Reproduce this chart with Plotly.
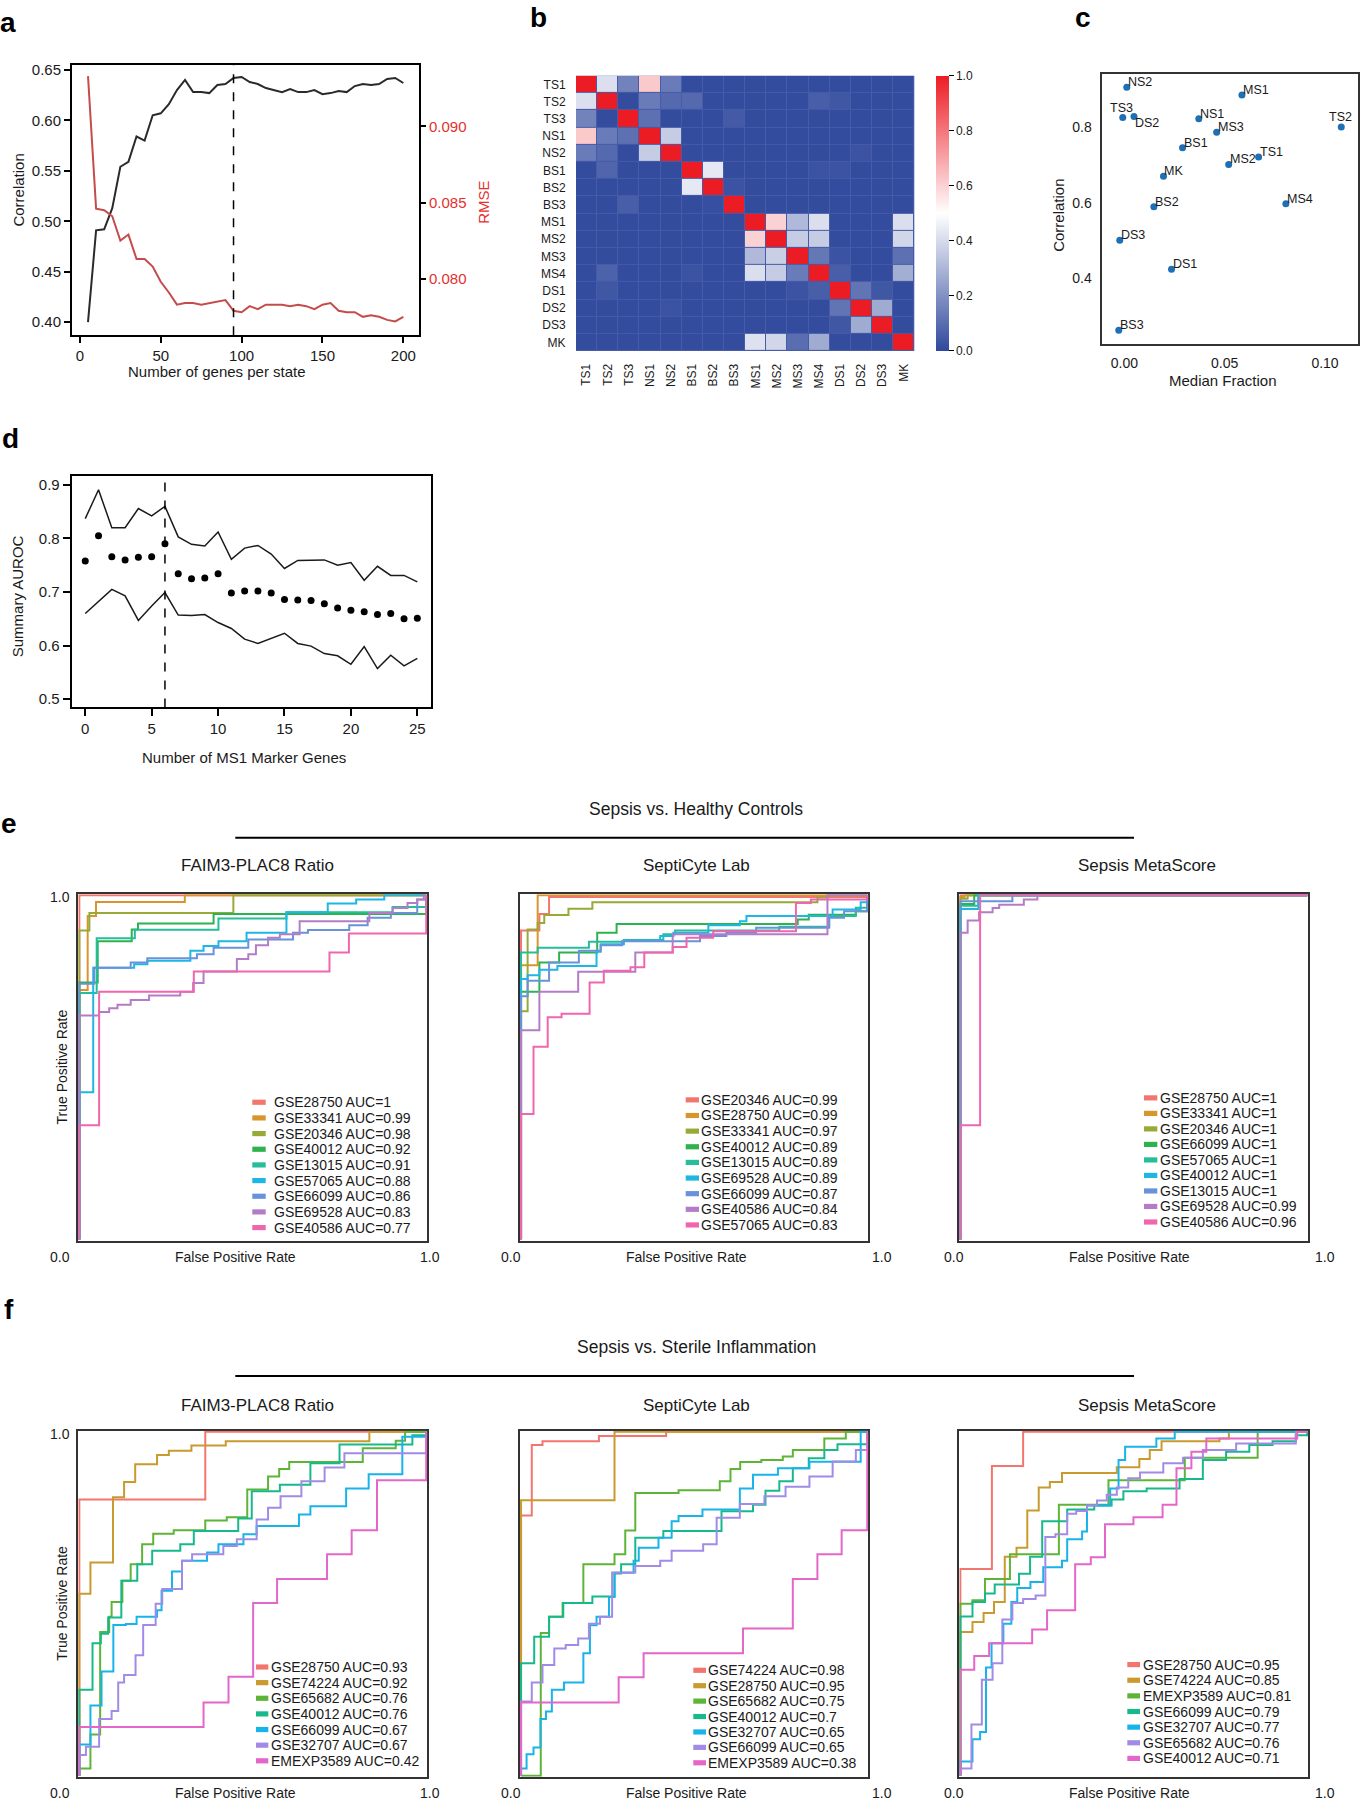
import plotly.graph_objects as go

W, H = 1360, 1800
FONT = "Liberation Sans, Arial, Helvetica, sans-serif"
TXT = "#1a1a1a"

# ---------------- Panel a data ----------------
genes_per_state = list(range(5, 201, 5))
correlation_a = [0.400, 0.491, 0.492, 0.513, 0.554, 0.559, 0.584, 0.580, 0.605, 0.607,
                 0.616, 0.630, 0.640, 0.628, 0.628, 0.627, 0.635, 0.636, 0.642, 0.643,
                 0.638, 0.636, 0.632, 0.630, 0.628, 0.631, 0.628, 0.628, 0.630, 0.626,
                 0.627, 0.629, 0.628, 0.634, 0.636, 0.635, 0.636, 0.641, 0.642, 0.637]
rmse_a = [0.0933, 0.0846, 0.0845, 0.0841, 0.0825, 0.0829, 0.0813, 0.0813, 0.0808, 0.0798,
          0.0791, 0.0783, 0.0784, 0.0784, 0.0783, 0.0784, 0.0785, 0.0786, 0.0779, 0.0778,
          0.0782, 0.0780, 0.0783, 0.0783, 0.0783, 0.0782, 0.0783, 0.0782, 0.0780, 0.0783,
          0.0784, 0.0779, 0.0778, 0.0778, 0.0775, 0.0776, 0.0775, 0.0773, 0.0772, 0.0775]
optimal_genes = 95

# ---------------- Panel b data ----------------
states = ["TS1", "TS2", "TS3", "NS1", "NS2", "BS1", "BS2", "BS3",
          "MS1", "MS2", "MS3", "MS4", "DS1", "DS2", "DS3", "MK"]
similarity = [
    [1.00, 0.415, 0.16, 0.62, 0.14, 0.01, 0.01, 0.01, 0.01, 0.01, 0.01, 0.01, 0.01, 0.01, 0.01, 0.01],
    [0.415, 1.00, 0.01, 0.14, 0.09, 0.09, 0.01, 0.01, 0.01, 0.01, 0.01, 0.06, 0.04, 0.01, 0.01, 0.01],
    [0.16, 0.01, 1.00, 0.11, 0.01, 0.01, 0.01, 0.05, 0.01, 0.01, 0.01, 0.01, 0.01, 0.01, 0.01, 0.01],
    [0.62, 0.14, 0.11, 1.00, 0.36, 0.01, 0.01, 0.01, 0.01, 0.01, 0.01, 0.01, 0.01, 0.01, 0.01, 0.01],
    [0.14, 0.09, 0.01, 0.36, 1.00, 0.01, 0.01, 0.01, 0.01, 0.01, 0.01, 0.01, 0.01, 0.03, 0.01, 0.01],
    [0.01, 0.08, 0.01, 0.01, 0.01, 1.00, 0.44, 0.01, 0.01, 0.01, 0.01, 0.03, 0.03, 0.01, 0.01, 0.01],
    [0.01, 0.01, 0.01, 0.01, 0.01, 0.44, 1.00, 0.03, 0.01, 0.01, 0.01, 0.01, 0.01, 0.01, 0.01, 0.01],
    [0.01, 0.01, 0.06, 0.01, 0.01, 0.01, 0.02, 1.00, 0.01, 0.01, 0.01, 0.01, 0.01, 0.01, 0.01, 0.01],
    [0.01, 0.01, 0.01, 0.01, 0.01, 0.01, 0.01, 0.01, 1.00, 0.60, 0.31, 0.41, 0.01, 0.01, 0.01, 0.41],
    [0.01, 0.01, 0.01, 0.01, 0.01, 0.01, 0.01, 0.01, 0.60, 1.00, 0.36, 0.36, 0.01, 0.01, 0.01, 0.39],
    [0.01, 0.01, 0.01, 0.01, 0.01, 0.01, 0.01, 0.01, 0.31, 0.37, 1.00, 0.13, 0.03, 0.01, 0.01, 0.11],
    [0.01, 0.07, 0.01, 0.01, 0.01, 0.03, 0.01, 0.01, 0.41, 0.36, 0.14, 1.00, 0.06, 0.01, 0.01, 0.28],
    [0.01, 0.04, 0.01, 0.01, 0.01, 0.01, 0.01, 0.01, 0.01, 0.01, 0.03, 0.06, 1.00, 0.12, 0.04, 0.01],
    [0.01, 0.01, 0.01, 0.01, 0.03, 0.01, 0.01, 0.01, 0.01, 0.01, 0.01, 0.01, 0.12, 1.00, 0.27, 0.01],
    [0.01, 0.01, 0.01, 0.01, 0.01, 0.01, 0.01, 0.01, 0.01, 0.01, 0.01, 0.01, 0.04, 0.27, 1.00, 0.01],
    [0.01, 0.01, 0.01, 0.01, 0.01, 0.01, 0.01, 0.01, 0.42, 0.39, 0.10, 0.27, 0.01, 0.01, 0.01, 1.00],
]
heat_ticks = [0.0, 0.2, 0.4, 0.6, 0.8, 1.0]

# ---------------- Panel c data ----------------
c_labels = ["NS2", "MS1", "TS3", "DS2", "NS1", "MS3", "TS2", "BS1", "TS1",
            "MS2", "MK", "MS4", "BS2", "DS3", "DS1", "BS3"]
c_median_fraction = [0.0012, 0.0586, -0.0008, 0.0048, 0.0371, 0.0460, 0.1081, 0.0290,
                     0.0669, 0.0520, 0.0195, 0.0805, 0.0147, -0.0023, 0.0235, -0.0028]
c_correlation = [0.905, 0.885, 0.825, 0.828, 0.822, 0.786, 0.800, 0.745,
                 0.721, 0.701, 0.670, 0.597, 0.589, 0.501, 0.424, 0.263]
c_text_pos = ["top right", "top right", "top center", "bottom right", "top right",
              "top right", "top center", "top right", "top right", "top right",
              "top right", "top right", "top right", "top right", "top right", "top right"]

# ---------------- Panel d data ----------------
ms1_genes = list(range(0, 26))
auroc_summary = [0.758, 0.805, 0.766, 0.760, 0.765, 0.766, 0.790, 0.734, 0.725, 0.726,
                 0.734, 0.698, 0.702, 0.702, 0.698, 0.686, 0.685, 0.684, 0.678, 0.670,
                 0.666, 0.663, 0.658, 0.660, 0.650, 0.651]
auroc_upper = [0.837, 0.891, 0.820, 0.820, 0.856, 0.842, 0.860, 0.803, 0.789, 0.786,
               0.812, 0.761, 0.782, 0.787, 0.771, 0.744, 0.759, 0.760, 0.760, 0.750,
               0.755, 0.722, 0.748, 0.731, 0.731, 0.719]
auroc_lower = [0.660, 0.682, 0.705, 0.693, 0.647, 0.674, 0.699, 0.657, 0.656, 0.658,
               0.643, 0.632, 0.612, 0.604, 0.614, 0.623, 0.604, 0.599, 0.585, 0.581,
               0.565, 0.598, 0.557, 0.582, 0.562, 0.576]
optimal_ms1 = 6

# ---------------- Panel e data (Sepsis vs. Healthy Controls) ----------------
e_faim3_names = ["GSE28750", "GSE33341", "GSE20346", "GSE40012", "GSE13015",
                 "GSE57065", "GSE66099", "GSE69528", "GSE40586"]
e_faim3_auc = ["1", "0.99", "0.98", "0.92", "0.91", "0.88", "0.86", "0.83", "0.77"]
e_faim3_fpr = [
    [0, 0, 1],
    [0, 0, 0.024, 0.048, 0.304, 1],
    [0, 0, 0.029, 0.444, 1],
    [0, 0, 0.053, 0.151, 0.169, 0.387, 1],
    [0, 0, 0.05, 0.16, 0.401, 0.597, 0.903, 1],
    [0, 0, 0.04, 0.158, 0.196, 0.32, 0.358, 0.401, 0.482, 0.597, 0.716, 0.798, 0.879, 1],
    [0, 0, 0.043, 0.148, 0.196, 0.339, 0.387, 0.487, 0.616, 0.659, 0.778, 0.831, 0.898, 0.974, 1],
    [0, 0, 0.057, 0.086, 0.110, 0.148, 0.201, 0.291, 0.328, 0.358, 0.454, 0.487, 0.509, 0.544,
     0.578, 0.635, 0.836, 0.903, 0.946, 0.974, 0.993, 1],
    [0, 0, 0.057, 0.33, 0.721, 0.777, 1],
]
e_faim3_tpr = [
    [0, 1, 1],
    [0, 0.725, 0.94, 0.981, 1, 1],
    [0, 0.898, 0.949, 1, 1],
    [0, 0.747, 0.867, 0.901, 0.918, 0.946, 1],
    [0, 0.716, 0.875, 0.9, 0.933, 0.951, 0.966, 1],
    [0, 0.428, 0.79, 0.80, 0.81, 0.839, 0.853, 0.867, 0.891, 0.951, 0.976, 0.988, 1, 1],
    [0, 0.743, 0.79, 0.805, 0.817, 0.829, 0.848, 0.872, 0.891, 0.899, 0.913, 0.935, 0.949, 0.988, 1],
    [0, 0.651, 0.661, 0.672, 0.682, 0.696, 0.709, 0.72, 0.745, 0.779, 0.815, 0.829, 0.855, 0.877,
     0.887, 0.925, 0.949, 0.963, 0.978, 0.988, 1, 1],
    [0, 0.332, 0.72, 0.779, 0.834, 0.889, 1],
]

e_septi_names = ["GSE20346", "GSE28750", "GSE33341", "GSE40012", "GSE13015",
                 "GSE69528", "GSE66099", "GSE40586", "GSE57065"]
e_septi_auc = ["0.99", "0.99", "0.97", "0.89", "0.89", "0.89", "0.87", "0.84", "0.83"]
e_septi_fpr = [
    [0, 0, 0.053, 0.081, 1],
    [0, 0, 0.048, 1],
    [0, 0, 0.019, 0.048, 0.067, 0.137, 0.206, 0.856, 0.885, 1],
    [0, 0, 0.053, 0.11, 0.22, 0.276, 0.799, 0.831, 0.967, 1],
    [0, 0, 0.048, 0.196, 0.297, 0.411, 0.445, 0.746, 0.89, 0.967, 1],
    [0, 0, 0.019, 0.053, 0.105, 0.218, 0.23, 0.297, 0.402, 0.44, 0.541, 0.632, 0.651, 0.9, 0.981, 1],
    [0, 0, 0.019, 0.081, 0.167, 0.23, 0.292, 0.517, 0.593, 0.679, 0.89, 0.933, 1],
    [0, 0, 0.053, 0.165, 0.33, 0.438, 0.885, 1],
    [0, 0, 0.036, 0.077, 0.117, 0.198, 0.239, 0.316, 0.356, 0.438, 0.478, 0.555, 0.794, 0.837, 1],
]
e_septi_tpr = [
    [0, 0.898, 0.946, 0.995, 1],
    [0, 0.797, 1, 1],
    [0, 0.663, 0.901, 0.92, 0.943, 0.961, 0.98, 0.994, 1, 1],
    [0, 0.72, 0.805, 0.834, 0.891, 0.917, 0.93, 0.944, 0.954, 1],
    [0, 0.834, 0.848, 0.865, 0.87, 0.887, 0.898, 0.909, 0.94, 0.964, 1],
    [0, 0.757, 0.768, 0.784, 0.795, 0.836, 0.858, 0.869, 0.882, 0.891, 0.913, 0.925, 0.94, 0.959, 0.98, 1],
    [0, 0.707, 0.752, 0.805, 0.839, 0.855, 0.867, 0.882, 0.891, 0.906, 0.935, 0.954, 1],
    [0, 0.608, 0.72, 0.778, 0.834, 0.887, 1, 1],
    [0, 0.365, 0.56, 0.646, 0.656, 0.747, 0.781, 0.791, 0.834, 0.85, 0.877, 0.896, 0.978, 0.988, 1],
]

e_meta_names = ["GSE28750", "GSE33341", "GSE20346", "GSE66099", "GSE57065",
                "GSE40012", "GSE13015", "GSE69528", "GSE40586"]
e_meta_auc = ["1", "1", "1", "1", "1", "1", "1", "0.99", "0.96"]
e_meta_fpr = [
    [0, 0, 1],
    [0, 0, 0.012, 1],
    [0, 0, 0.021, 1],
    [0, 0, 0.04, 1],
    [0, 0, 0.052, 1],
    [0, 0, 0.052, 1],
    [0, 0, 0.15, 1],
    [0, 0, 0.021, 0.054, 0.093, 0.112, 0.183, 0.222, 1],
    [0, 0, 0.057, 1],
]
e_meta_tpr = [
    [0, 1, 1],
    [0, 0.995, 1, 1],
    [0, 0.99, 1, 1],
    [0, 0.975, 1, 1],
    [0, 0.97, 1, 1],
    [0, 0.96, 1, 1],
    [0, 0.983, 1, 1],
    [0, 0.891, 0.927, 0.951, 0.963, 0.973, 0.988, 1, 1],
    [0, 0.332, 1, 1],
]

# ---------------- Panel f data (Sepsis vs. Sterile Inflammation) ----------------
f_faim3_names = ["GSE28750", "GSE74224", "GSE65682", "GSE40012", "GSE66099", "GSE32707", "EMEXP3589"]
f_faim3_auc = ["0.93", "0.92", "0.76", "0.76", "0.67", "0.67", "0.42"]
f_faim3_fpr = [
    [0, 0, 0.363, 1],
    [0, 0, 0.032, 0.097, 0.129, 0.161, 0.224, 0.258, 0.323, 0.422, 0.836, 1],
    [0, 0, 0.032, 0.06, 0.086, 0.093, 0.124, 0.148, 0.181, 0.213, 0.272, 0.363, 0.425, 0.484,
     0.544, 0.576, 0.605, 0.817, 0.912, 0.939, 1],
    [0, 0, 0.038, 0.062, 0.083, 0.121, 0.167, 0.21, 0.291, 0.33, 0.458, 0.497, 0.578, 0.666, 0.75, 0.96, 1],
    [0, 0, 0.032, 0.064, 0.098, 0.134, 0.165, 0.224, 0.237, 0.267, 0.296, 0.368, 0.401, 0.473,
     0.511, 0.633, 0.666, 0.769, 0.834, 0.931, 1],
    [0, 0, 0.019, 0.057, 0.093, 0.112, 0.129, 0.162, 0.184, 0.22, 0.239, 0.296, 0.325, 0.415,
     0.454, 0.511, 0.544, 0.58, 0.64, 0.707, 0.764, 1],
    [0, 0, 0.358, 0.43, 0.501, 0.57, 0.714, 0.785, 0.858, 1],
]
f_faim3_tpr = [
    [0, 0.803, 1, 1],
    [0, 0.529, 0.62, 0.81, 0.854, 0.906, 0.933, 0.945, 0.96, 0.973, 1, 1],
    [0, 0.021, 0.12, 0.418, 0.462, 0.505, 0.567, 0.615, 0.673, 0.704, 0.714, 0.742, 0.752, 0.832,
     0.87, 0.892, 0.912, 0.952, 0.974, 1, 1],
    [0, 0.25, 0.385, 0.413, 0.46, 0.567, 0.615, 0.654, 0.673, 0.712, 0.748, 0.827, 0.846, 0.909, 0.963, 0.99, 1],
    [0, 0.091, 0.204, 0.303, 0.438, 0.441, 0.462, 0.481, 0.538, 0.594, 0.625, 0.649, 0.673, 0.702,
     0.726, 0.76, 0.784, 0.835, 0.877, 0.986, 1],
    [0, 0.06, 0.084, 0.165, 0.188, 0.271, 0.293, 0.35, 0.438, 0.5, 0.543, 0.625, 0.644, 0.668,
     0.688, 0.745, 0.779, 0.8125, 0.856, 0.896, 0.9375, 1],
    [0, 0.142, 0.213, 0.288, 0.502, 0.572, 0.644, 0.714, 0.859, 1],
]

f_septi_names = ["GSE74224", "GSE28750", "GSE65682", "GSE40012", "GSE32707", "GSE66099", "EMEXP3589"]
f_septi_auc = ["0.98", "0.95", "0.75", "0.7", "0.65", "0.65", "0.38"]
f_septi_fpr = [
    [0, 0, 0.031, 0.062, 0.225, 0.419, 1],
    [0, 0, 0.27, 1],
    [0, 0.057, 0.081, 0.12, 0.18, 0.27, 0.301, 0.33, 0.455, 0.574, 0.605, 0.633, 0.694, 0.756,
     0.785, 0.876, 0.938, 1],
    [0, 0, 0.038, 0.081, 0.122, 0.206, 0.27, 0.289, 0.33, 0.411, 0.579, 0.67, 0.706, 0.746,
     0.785, 0.831, 0.876, 0.914, 1],
    [0, 0, 0.016, 0.036, 0.056, 0.072, 0.089, 0.124, 0.18, 0.199, 0.218, 0.254, 0.27, 0.325,
     0.34, 0.397, 0.435, 0.455, 0.524, 0.632, 0.67, 0.742, 0.833, 0.981, 1],
    [0, 0, 0.031, 0.062, 0.096, 0.129, 0.165, 0.196, 0.228, 0.263, 0.33, 0.402, 0.435, 0.526,
     0.565, 0.632, 0.703, 0.764, 0.833, 0.9, 0.967, 1],
    [0, 0, 0.282, 0.354, 0.641, 0.785, 0.856, 0.926, 1],
]
f_septi_tpr = [
    [0, 0.757, 0.962, 0.973, 0.988, 1, 1],
    [0, 0.801, 1, 1],
    [0, 0.415, 0.462, 0.502, 0.615, 0.644, 0.713, 0.822, 0.83, 0.856, 0.892, 0.912, 0.918, 0.928,
     0.947, 0.981, 1, 1],
    [0, 0.327, 0.404, 0.462, 0.502, 0.521, 0.588, 0.615, 0.692, 0.712, 0.769, 0.788, 0.829, 0.856,
     0.894, 0.923, 0.947, 0.964, 1],
    [0, 0.021, 0.0625, 0.082, 0.165, 0.187, 0.25, 0.271, 0.356, 0.4375, 0.462, 0.52, 0.59, 0.625,
     0.663, 0.692, 0.74, 0.755, 0.774, 0.835, 0.875, 0.894, 0.913, 1, 1],
    [0, 0.216, 0.271, 0.322, 0.37, 0.38, 0.399, 0.442, 0.462, 0.591, 0.61, 0.625, 0.654, 0.673,
     0.75, 0.79, 0.8125, 0.84, 0.87, 0.9135, 0.947, 1],
    [0, 0.213, 0.286, 0.356, 0.428, 0.572, 0.644, 0.714, 1],
]

f_meta_names = ["GSE28750", "GSE74224", "EMEXP3589", "GSE66099", "GSE32707", "GSE65682", "GSE40012"]
f_meta_auc = ["0.95", "0.85", "0.81", "0.79", "0.77", "0.76", "0.71"]
f_meta_fpr = [
    [0, 0, 0.091, 0.181, 1],
    [0, 0, 0.035, 0.067, 0.097, 0.128, 0.162, 0.193, 0.226, 0.258, 0.293, 0.451, 0.516, 0.546,
     0.58, 0.747, 0.774, 1],
    [0, 0, 0.035, 0.071, 0.143, 0.284, 0.427, 0.647, 0.857, 1],
    [0, 0, 0.035, 0.071, 0.099, 0.169, 0.201, 0.236, 0.308, 0.386, 0.436, 0.47, 0.537, 0.632,
     0.699, 0.766, 0.833, 0.9, 0.967, 1],
    [0, 0, 0.035, 0.057, 0.074, 0.09, 0.124, 0.147, 0.164, 0.202, 0.239, 0.293, 0.308, 0.351,
     0.365, 0.432, 0.456, 0.475, 0.565, 0.618, 1],
    [0, 0, 0.032, 0.062, 0.093, 0.121, 0.15, 0.181, 0.217, 0.245, 0.274, 0.308, 0.334, 0.365,
     0.394, 0.422, 0.451, 0.484, 0.518, 0.585, 0.642, 0.699, 0.795, 0.967, 1],
    [0, 0, 0.04, 0.083, 0.207, 0.25, 0.331, 0.376, 0.417, 0.499, 0.583, 0.623, 0.666, 0.709, 0.971, 1],
]
f_meta_tpr = [
    [0, 0.601, 0.901, 1, 1],
    [0, 0.418, 0.447, 0.473, 0.505, 0.637, 0.663, 0.771, 0.838, 0.854, 0.88, 0.897, 0.921, 0.947,
     0.973, 0.981, 1, 1],
    [0, 0.5, 0.51, 0.572, 0.644, 0.788, 0.859, 0.925, 1, 1],
    [0, 0.463, 0.505, 0.53, 0.556, 0.587, 0.637, 0.74, 0.774, 0.786, 0.803, 0.827, 0.835, 0.863,
     0.918, 0.942, 0.962, 0.973, 0.99, 1],
    [0, 0.041, 0.106, 0.127, 0.315, 0.385, 0.442, 0.505, 0.546, 0.563, 0.606, 0.625, 0.6875, 0.71,
     0.786, 0.835, 0.918, 0.957, 0.981, 1, 1],
    [0, 0.021, 0.149, 0.279, 0.327, 0.454, 0.502, 0.514, 0.524, 0.694, 0.702, 0.762, 0.77, 0.786,
     0.8, 0.817, 0.838, 0.865, 0.882, 0.909, 0.925, 0.947, 0.966, 1, 1],
    [0, 0.308, 0.348, 0.385, 0.425, 0.481, 0.615, 0.635, 0.731, 0.752, 0.788, 0.894, 0.942, 0.981, 1, 1],
]

hue9 = ["#F3766E", "#D8952E", "#97AA36", "#2DB24E", "#26BD9A", "#1EB7E4", "#6A92DA", "#B47CC6", "#F066AE"]
hue7 = ["#F3766E", "#C99A2E", "#5DB437", "#17B98C", "#18B3E8", "#A28BE6", "#E466C8"]

# ---------------- helpers ----------------
def fx(x):
    return x / W


def fy(y):
    return 1 - y / H


def dom_x(x0, x1):
    return [fx(x0), fx(x1)]


def dom_y(y0, y1):
    return [fy(y1), fy(y0)]


annotations = []
shapes = []


def ann(text, x, y, size, color=TXT, angle=0, xanchor="center", yanchor="middle", bold=False):
    annotations.append(dict(
        text=text, x=fx(x), y=fy(y), xref="paper", yref="paper", showarrow=False,
        xanchor=xanchor, yanchor=yanchor, textangle=angle,
        font=dict(family=FONT, size=size, color=color, weight="bold" if bold else "normal")))


def r_axis(**kw):
    d = dict(showline=True, mirror=True, linecolor="black", linewidth=2, ticks="outside",
             ticklen=6, tickwidth=1.5, tickcolor="black", showgrid=False, zeroline=False,
             tickfont=dict(family=FONT, size=15, color=TXT))
    d.update(kw)
    return d


fig = go.Figure()
layout = dict(width=W, height=H, margin=dict(l=0, r=0, t=0, b=0), autosize=False,
              paper_bgcolor="white", plot_bgcolor="white", showlegend=False,
              font=dict(family=FONT, color=TXT))

# ---------------- Panel a ----------------
fig.add_trace(go.Scatter(x=genes_per_state, y=correlation_a, mode="lines",
                         line=dict(color="#2a2a2a", width=2), xaxis="x", yaxis="y"))
fig.add_trace(go.Scatter(x=genes_per_state, y=rmse_a, mode="lines",
                         line=dict(color="#C64B4B", width=2), xaxis="x", yaxis="y2"))
layout["xaxis"] = r_axis(domain=dom_x(72, 419), range=[-4.9, 209.7], tickvals=[0, 50, 100, 150, 200],
                         anchor="y")
layout["yaxis"] = r_axis(domain=dom_y(61, 332), range=[0.387, 0.655],
                         tickvals=[0.40, 0.45, 0.50, 0.55, 0.60, 0.65], tickformat=".2f", anchor="x")
layout["yaxis2"] = dict(overlaying="y", side="right", anchor="x", range=[0.07629, 0.09404],
                        tickvals=[0.080, 0.085, 0.090], tickformat=".3f", ticks="outside", ticklen=6,
                        tickwidth=1.5, tickcolor="black", showline=False, showgrid=False, zeroline=False,
                        tickfont=dict(family=FONT, size=15, color="#E5302E"))
shapes.append(dict(type="line", xref="x", yref="y domain", x0=optimal_genes, x1=optimal_genes,
                   y0=0, y1=1, line=dict(color="black", width=1.5, dash="dash")))
ann("Number of genes per state", 216.7, 368.3, 15)
ann("Correlation", 18.3, 186.7, 15, angle=-90)
ann("RMSE", 483.3, 199, 15, color="#E5302E", angle=-90)

# ---------------- Panel b ----------------
fig.add_trace(go.Heatmap(
    z=similarity, x=states, y=states, zmin=0, zmax=1, xgap=1, ygap=1,
    colorscale=[[0, "rgb(47,72,156)"], [0.5, "rgb(255,255,255)"], [1, "rgb(236,28,36)"]],
    xaxis="x3", yaxis="y3",
    colorbar=dict(x=fx(936), xanchor="left", xpad=0, y=fy(72), yanchor="top", ypad=0,
                  len=(347.7 - 72) / H, lenmode="fraction", thickness=13, outlinewidth=0,
                  ticks="outside", ticklen=5, tickcolor="black", tickwidth=1.2,
                  tickvals=heat_ticks, ticktext=[f"{v:.1f}" for v in heat_ticks],
                  tickfont=dict(family=FONT, size=12, color=TXT))))
layout["xaxis3"] = dict(domain=dom_x(576, 914.3), anchor="y3", tickangle=-90, ticks="outside", ticklen=7,
                        tickcolor="rgba(0,0,0,0)", showline=False, showgrid=False, zeroline=False,
                        tickfont=dict(family=FONT, size=12, color=TXT))
layout["yaxis3"] = dict(domain=dom_y(72, 347.7), anchor="x3", autorange="reversed", ticks="outside",
                        ticklen=7, tickcolor="rgba(0,0,0,0)", showline=False, showgrid=False,
                        zeroline=False, tickfont=dict(family=FONT, size=12, color=TXT))
shapes.append(dict(type="rect", xref="x3 domain", yref="y3 domain", x0=0, x1=1, y0=0, y1=1,
                   fillcolor="rgb(70,92,168)", line=dict(width=0), layer="below"))

# ---------------- Panel c ----------------
fig.add_trace(go.Scatter(x=c_median_fraction, y=c_correlation, mode="markers",
                         marker=dict(size=7, color="#1f6fb4"), xaxis="x4", yaxis="y4",
                         cliponaxis=False))
label_style = {
    "top right": dict(xanchor="left", yanchor="bottom", xshift=-1, yshift=-4),
    "top center": dict(xanchor="center", yanchor="bottom", xshift=-1, yshift=1),
    "bottom right": dict(xanchor="left", yanchor="top", xshift=-1, yshift=2),
}
for lab, xv, yv, pos in zip(c_labels, c_median_fraction, c_correlation, c_text_pos):
    a = dict(text=lab, x=xv, y=yv, xref="x4", yref="y4", showarrow=False,
             font=dict(family=FONT, size=12.5, color=TXT))
    a.update(label_style[pos])
    annotations.append(a)
c_axis = dict(linecolor="#333333", linewidth=1.5, tickcolor="rgba(0,0,0,0)", ticklen=6,
              tickfont=dict(family=FONT, size=14, color=TXT))
layout["xaxis4"] = r_axis(domain=dom_x(1102.3, 1358.3), range=[-0.011, 0.1166], tickvals=[0, 0.05, 0.10],
                          tickformat=".2f", anchor="y4", **c_axis)
layout["yaxis4"] = r_axis(domain=dom_y(70, 340.7), range=[0.2267, 0.9406], tickvals=[0.4, 0.6, 0.8],
                          tickformat=".1f", anchor="x4", **c_axis)
ann("Median Fraction", 1223.3, 377.7, 15)
ann("Correlation", 1059, 212.3, 15, angle=-90)

# ---------------- Panel d ----------------
fig.add_trace(go.Scatter(x=ms1_genes, y=auroc_upper, mode="lines", line=dict(color="#1a1a1a", width=1.5),
                         xaxis="x5", yaxis="y5"))
fig.add_trace(go.Scatter(x=ms1_genes, y=auroc_lower, mode="lines", line=dict(color="#1a1a1a", width=1.5),
                         xaxis="x5", yaxis="y5"))
fig.add_trace(go.Scatter(x=ms1_genes, y=auroc_summary, mode="markers", marker=dict(color="black", size=7),
                         xaxis="x5", yaxis="y5"))
layout["xaxis5"] = r_axis(domain=dom_x(71.7, 431), range=[-1.02, 26.03], tickvals=[0, 5, 10, 15, 20, 25],
                          anchor="y5", ticklen=7)
layout["yaxis5"] = r_axis(domain=dom_y(472.7, 705), range=[0.4845, 0.9173],
                          tickvals=[0.5, 0.6, 0.7, 0.8, 0.9], tickformat=".1f", anchor="x5", ticklen=7)
shapes.append(dict(type="line", xref="x5", yref="y5 domain", x0=optimal_ms1, x1=optimal_ms1,
                   y0=0, y1=1, line=dict(color="black", width=1.5, dash="dash")))
ann("Number of MS1 Marker Genes", 244, 755, 15)
ann("Summary AUROC", 18.3, 593.3, 15, angle=-90)

# ---------------- Panels e / f (ROC) ----------------
roc_panels = [
    dict(ax=6, box=(78.3, 892.3, 427.3, 1239.3), names=e_faim3_names, auc=e_faim3_auc,
         fpr=e_faim3_fpr, tpr=e_faim3_tpr, colors=hue9, sw=(252.3, 265.7), tx=271.5, row0=1100.7, dy=15.7,
         title="FAIM3-PLAC8 Ratio", tcx=257.5, tcy=863.3, fcx=235, lab0=60, lab1=430, laby=1256, ylab=True),
    dict(ax=7, box=(520, 892.3, 868.3, 1239.3), names=e_septi_names, auc=e_septi_auc,
         fpr=e_septi_fpr, tpr=e_septi_tpr, colors=hue9, sw=(685.7, 699), tx=699.5, row0=1098.3, dy=15.67,
         title="SeptiCyte Lab", tcx=696.7, tcy=863.3, fcx=686, lab0=510.7, lab1=881.7, laby=1256, ylab=False),
    dict(ax=8, box=(959.3, 892.3, 1308.3, 1239.3), names=e_meta_names, auc=e_meta_auc,
         fpr=e_meta_fpr, tpr=e_meta_tpr, colors=hue9, sw=(1144, 1157.3), tx=1158, row0=1096.3, dy=15.55,
         title="Sepsis MetaScore", tcx=1147.2, tcy=863.3, fcx=1129, lab0=954.3, lab1=1325, laby=1256, ylab=False),
    dict(ax=9, box=(78.3, 1430, 427.3, 1776.7), names=f_faim3_names, auc=f_faim3_auc,
         fpr=f_faim3_fpr, tpr=f_faim3_tpr, colors=hue7, sw=(256, 268.3), tx=268.8, row0=1666.7, dy=15.67,
         title="FAIM3-PLAC8 Ratio", tcx=257.5, tcy=1405, fcx=235, lab0=60, lab1=430, laby=1792.5, ylab=True),
    dict(ax=10, box=(520, 1430, 868.3, 1776.7), names=f_septi_names, auc=f_septi_auc,
         fpr=f_septi_fpr, tpr=f_septi_tpr, colors=hue7, sw=(693.3, 706), tx=706.3, row0=1670, dy=15.45,
         title="SeptiCyte Lab", tcx=696.7, tcy=1405, fcx=686, lab0=510.7, lab1=881.7, laby=1792.5, ylab=False),
    dict(ax=11, box=(959.3, 1430, 1308.3, 1776.7), names=f_meta_names, auc=f_meta_auc,
         fpr=f_meta_fpr, tpr=f_meta_tpr, colors=hue7, sw=(1127.3, 1140), tx=1140.5, row0=1664.3, dy=15.67,
         title="Sepsis MetaScore", tcx=1147.2, tcy=1405, fcx=1129, lab0=954.3, lab1=1325, laby=1792.5, ylab=False),
]

for p in roc_panels:
    k = p["ax"]
    x0, y0, x1, y1 = p["box"]
    for i, name in enumerate(p["names"]):
        fig.add_trace(go.Scatter(x=p["fpr"][i], y=p["tpr"][i], mode="lines", name=name,
                                 line=dict(color=p["colors"][i], width=2, shape="hv"),
                                 xaxis=f"x{k}", yaxis=f"y{k}"))
        ry = p["row0"] + i * p["dy"]
        shapes.append(dict(type="rect", xref="paper", yref="paper", x0=fx(p["sw"][0]), x1=fx(p["sw"][1]),
                           y0=fy(ry + 2.6), y1=fy(ry - 2.6), fillcolor=p["colors"][i], line=dict(width=0)))
        ann(f"{name} AUC={p['auc'][i]}", p["tx"], ry, 14, xanchor="left")
    frame = dict(showline=True, mirror=True, linecolor="#333333", linewidth=1.5, showticklabels=False,
                 ticks="", showgrid=False, zeroline=False, range=[-0.003, 1.003], layer="below traces")
    layout[f"xaxis{k}"] = dict(domain=dom_x(x0, x1), anchor=f"y{k}", **frame)
    layout[f"yaxis{k}"] = dict(domain=dom_y(y0, y1), anchor=f"x{k}", **frame)
    ann(p["title"], p["tcx"], p["tcy"], 17)
    ann("False Positive Rate", p["fcx"], p["laby"], 14)
    ann("0.0", p["lab0"], p["laby"], 14)
    ann("1.0", p["lab1"], p["laby"], 14)
    if p["ylab"]:
        ann("1.0", 60, y0 + 3, 14)
        ann("True Positive Rate", 62, (y0 + y1) / 2, 14, angle=-90)

# headers
ann("Sepsis vs. Healthy Controls", 696, 806.8, 17.5)
ann("Sepsis vs. Sterile Inflammation", 696, 1346.3, 17.5)
for ly in (835.6, 1375):
    shapes.append(dict(type="line", xref="paper", yref="paper", x0=fx(235.3), x1=fx(1134),
                       y0=fy(ly), y1=fy(ly), line=dict(color="black", width=2)))

# panel letters
for letter, lx, ly in [("a", 8, 18.5), ("b", 538.3, 13.3), ("c", 1082.5, 13.5),
                       ("d", 10.8, 435.8), ("e", 9.2, 821.5), ("f", 9.2, 1308)]:
    ann(letter, lx, ly, 28, color="black", bold=True)

layout["annotations"] = annotations
layout["shapes"] = shapes
fig.update_layout(**layout)
fig.write_html("out.html", config={"displayModeBar": False},
               post_script="document.body.style.margin='0px';document.body.style.padding='0px';")
